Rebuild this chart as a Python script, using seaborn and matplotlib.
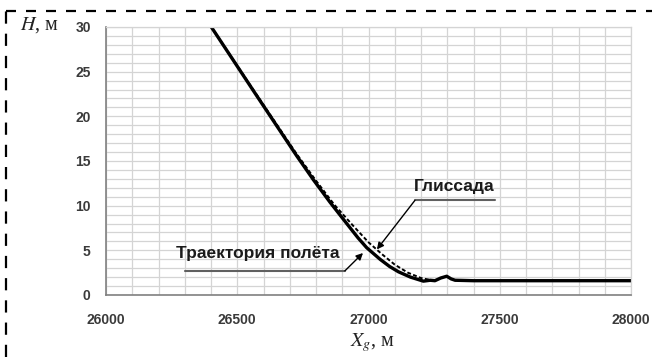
import matplotlib
matplotlib.use("Agg")
import matplotlib.pyplot as plt
import seaborn as sns
import pandas as pd
import numpy as np
from matplotlib.lines import Line2D

# ---- data ----
traj_x = [26399, 26563, 26726, 26790, 26853, 26917, 26960, 26993, 27044, 27080,
          27114, 27160, 27209, 27235, 27253, 27275, 27298, 27315, 27330, 27400, 28000]
traj_h = [30.1, 22.8, 15.6, 12.9, 10.4, 8.0, 6.4, 5.3, 4.0, 3.2,
          2.6, 2.0, 1.55, 1.65, 1.6, 1.9, 2.1, 1.8, 1.65, 1.6, 1.6]

glide_x = [26399, 26563, 26726, 26800, 26870, 26940, 27000, 27050, 27100, 27150, 27200, 27250]
glide_h = [30.1, 22.9, 15.8, 12.8, 10.1, 7.8, 5.9, 4.6, 3.4, 2.5, 1.9, 1.6]

x_ticks = [26000, 26500, 27000, 27500, 28000]
y_ticks = [0, 5, 10, 15, 20, 25, 30]

label_traj = "Траектория полёта"
label_glide = "Глиссада"

traj = pd.DataFrame({"x": traj_x, "h": traj_h})
glide = pd.DataFrame({"x": glide_x, "h": glide_h})

sns.set_theme(style="white")
plt.rcParams["mathtext.fontset"] = "stix"

W, H = 652, 357
fig = plt.figure(figsize=(W / 100, H / 100), dpi=100)
ax = fig.add_axes([106 / W, 1 - 295 / H, (631 - 106) / W, (295 - 27) / H])

sns.lineplot(data=traj, x="x", y="h", ax=ax, sort=False, color="black",
             linewidth=2.4, estimator=None)
sns.lineplot(data=glide, x="x", y="h", ax=ax, sort=False, color="black",
             linewidth=1.4, estimator=None, dashes=False)
ax.lines[-1].set_dashes((2.0, 1.2))

ax.set_xlim(26000, 28000)
ax.set_ylim(0, 30)
ax.set_xticks(x_ticks)
ax.set_yticks(y_ticks)
ax.set_xticks(np.arange(26000, 28001, 100), minor=True)
ax.set_yticks(np.arange(0, 31, 1), minor=True)
ax.grid(True, which="both", color="#d4d4d4", linewidth=0.9)
ax.set_axisbelow(True)
ax.tick_params(which="both", length=0)
ax.tick_params(axis="x", pad=13)
ax.tick_params(axis="y", pad=11)
for lab in ax.get_xticklabels() + ax.get_yticklabels():
    lab.set_fontfamily("Liberation Sans")
    lab.set_fontweight("bold")
    lab.set_fontsize(10)
    lab.set_color("#3a3a3a")
ax.set_xlabel("")
ax.set_ylabel("")
for s in ["left", "bottom"]:
    ax.spines[s].set_color("#808080")
    ax.spines[s].set_linewidth(1.2)
for s in ["top", "right"]:
    ax.spines[s].set_color("#d4d4d4")
    ax.spines[s].set_linewidth(0.9)

# annotations
ax.plot([26301, 26910], [2.7, 2.7], color="#606060", lw=1.5, clip_on=False)
ax.annotate("", xy=(26979, 4.7), xytext=(26910, 2.7),
            arrowprops=dict(arrowstyle="-|>", color="black", lw=1.0,
                            mutation_scale=10, shrinkA=0, shrinkB=0))
ax.text(26579, 4.6, label_traj, ha="center", va="center", fontsize=12.5,
        fontweight="bold", family="Liberation Sans", color="#1a1a1a")

ax.plot([27177, 27482], [10.6, 10.6], color="#606060", lw=1.5, clip_on=False)
ax.annotate("", xy=(27032, 5.1), xytext=(27177, 10.6),
            arrowprops=dict(arrowstyle="-|>", color="black", lw=1.0,
                            mutation_scale=10, shrinkA=0, shrinkB=0))
ax.text(27326, 12.2, label_glide, ha="center", va="center", fontsize=12.5,
        fontweight="bold", family="Liberation Sans", color="#1a1a1a")

# axis titles
fig.text(39 / W, 1 - 25 / H, "$H$, м", ha="center", va="center", fontsize=14.5,
         family="Liberation Serif", color="#222222")
fig.text(373 / W, 1 - 343 / H, "$X_g$, м", ha="center", va="center", fontsize=14.5,
         family="Liberation Serif", color="#222222")

# dashed frame (top and left)
fig.add_artist(Line2D([6 / W, 1.0], [1 - 11 / H, 1 - 11 / H], transform=fig.transFigure,
                      color="black", lw=1.6, dashes=(4.5, 4.5)))
fig.add_artist(Line2D([6 / W, 6 / W], [0, 1 - 11 / H], transform=fig.transFigure,
                      color="black", lw=1.6, dashes=(5.5, 4.5)))

fig.savefig("out.png", dpi=100)
